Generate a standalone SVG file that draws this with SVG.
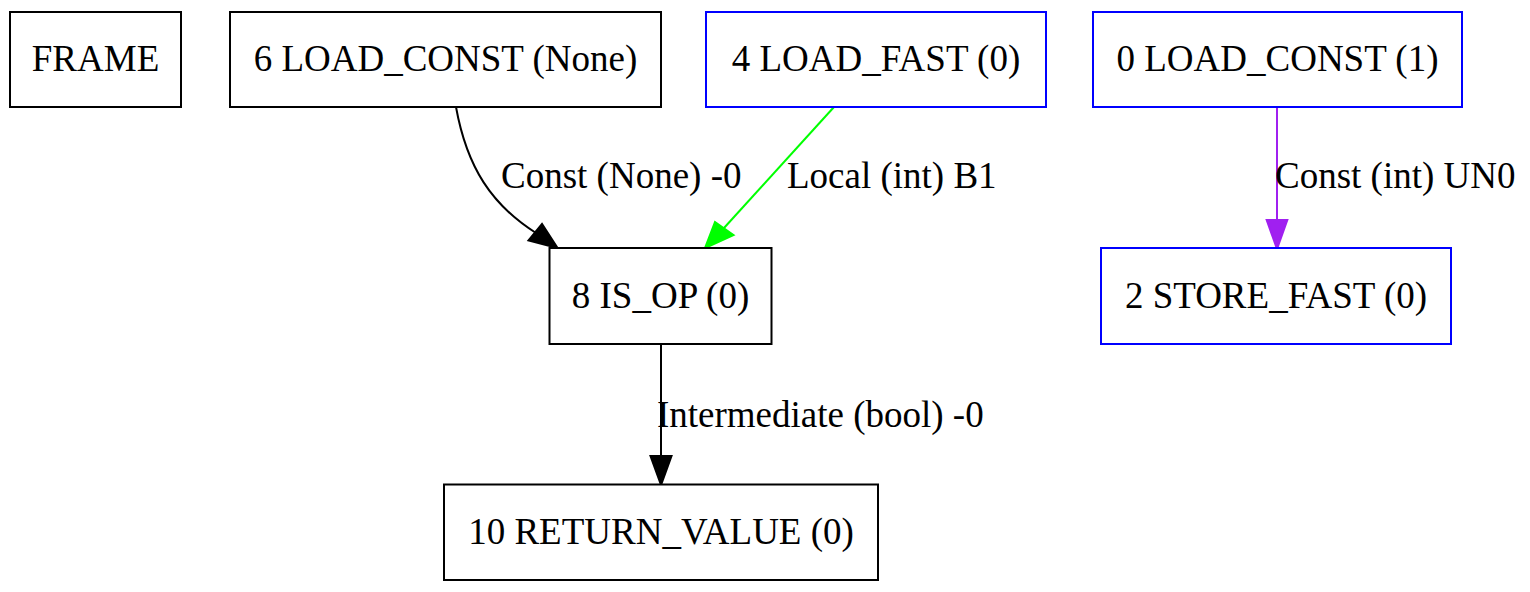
<svg xmlns="http://www.w3.org/2000/svg" width="1530" height="592" viewBox="0 0 1530 592">
<style>
  .box { fill: #ffffff; stroke-width: 2; }
  .blk { stroke: #000000; }
  .blu { stroke: #0000ff; }
  text { font-family: "Liberation Serif", "Times New Roman", serif; font-size: 37px; fill: #000000; }
  .nt { text-anchor: middle; }
  .edge { fill: none; stroke-width: 2; }
</style>
<rect width="1530" height="592" fill="#ffffff"/>
<g id="connectors">
  <g id="e-6-8">
    <path class="edge" stroke="#000000" d="M456,107 C467,168 492,205 536,233"/>
    <polygon points="557.5,248 528.5,240.5 542,224" fill="#000000" stroke="#000000" stroke-width="2"/>
    <text x="501" y="188">Const (None) -0</text>
  </g>
  <g id="e-4-8">
    <path class="edge" stroke="#00ff00" d="M834,107 L724,228"/>
    <polygon points="705,248 715,222 733.5,235" fill="#00ff00" stroke="#00ff00" stroke-width="2"/>
    <text x="787" y="188">Local (int) B1</text>
  </g>
  <g id="e-0-2">
    <path class="edge" stroke="#a020f0" d="M1277,107 L1277,221"/>
    <polygon points="1277,249 1266.7,220 1287.3,220" fill="#a020f0" stroke="#a020f0" stroke-width="2"/>
    <text x="1275" y="188">Const (int) UN0</text>
  </g>
  <g id="e-8-10">
    <path class="edge" stroke="#000000" d="M661,344 L661,457"/>
    <polygon points="661,485 650.5,456 671.5,456" fill="#000000" stroke="#000000" stroke-width="2"/>
    <text x="657" y="427">Intermediate (bool) -0</text>
  </g>
</g>
<g id="node-frame">
  <rect class="box blk" x="10" y="12" width="171" height="95"/>
  <text class="nt" x="95.5" y="70.5">FRAME</text>
</g>
<g id="node-6">
  <rect class="box blk" x="230" y="12" width="431" height="95"/>
  <text class="nt" x="445.5" y="70.5">6 LOAD_CONST (None)</text>
</g>
<g id="node-4">
  <rect class="box blu" x="706" y="12" width="340" height="95"/>
  <text class="nt" x="876" y="70.5">4 LOAD_FAST (0)</text>
</g>
<g id="node-0">
  <rect class="box blu" x="1093" y="12" width="369" height="95"/>
  <text class="nt" x="1277.5" y="70.5">0 LOAD_CONST (1)</text>
</g>
<g id="node-8">
  <rect class="box blk" x="549.5" y="248" width="222" height="96"/>
  <text class="nt" x="660.5" y="307.5">8 IS_OP (0)</text>
</g>
<g id="node-2">
  <rect class="box blu" x="1101" y="248" width="350" height="96"/>
  <text class="nt" x="1276" y="307.5">2 STORE_FAST (0)</text>
</g>
<g id="node-10">
  <rect class="box blk" x="444" y="484.5" width="434" height="95.5"/>
  <text class="nt" x="661" y="543.5">10 RETURN_VALUE (0)</text>
</g>
</svg>
